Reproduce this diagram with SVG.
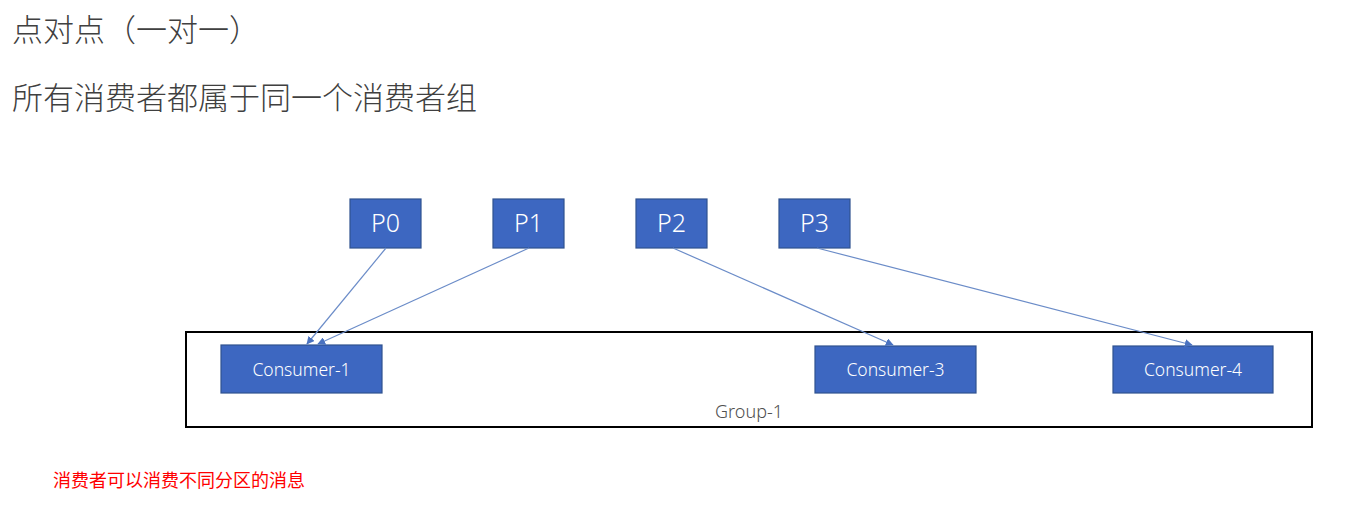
<svg xmlns="http://www.w3.org/2000/svg" width="1347" height="514" viewBox="0 0 1347 514">
<style>
.bg{fill:#ffffff}
.box{fill:#3d67c1;stroke:#2f528f;stroke-width:1.2}
.pt{font-family:"Noto Sans","Liberation Sans",sans-serif;font-size:25px;font-weight:300;fill:#ffffff;text-anchor:middle}
.ct{font-family:"Noto Sans","Liberation Sans",sans-serif;font-size:17.5px;font-weight:300;fill:#ffffff;text-anchor:middle}
.title{font-family:"Noto Sans CJK SC",sans-serif;font-size:31px;fill:#404040;font-weight:300}
.note{font-family:"Noto Sans CJK SC",sans-serif;font-size:18px;fill:#ff0000}
.grp{fill:none;stroke:#000000;stroke-width:2}
.gl{font-family:"Noto Sans","Liberation Sans",sans-serif;font-size:18px;font-weight:300;fill:#505050;text-anchor:middle}
.conn{stroke:#6b8cc8;stroke-width:1.2;fill:none;marker-end:url(#ah)}
</style>
<defs>
<marker id="ah" viewBox="0 0 10 10" refX="9" refY="5" markerWidth="8" markerHeight="8" markerUnits="userSpaceOnUse" orient="auto">
<path d="M0,0 L10,5 L0,10 z" fill="#4a72c0"/>
</marker>
</defs>
<rect class="bg" x="0" y="0" width="1347" height="514"/>
<text class="title" x="12" y="41">点对点（一对一）</text>
<text class="title" x="12" y="109">所有消费者都属于同一个消费者组</text>
<g id="group-1">
<rect class="grp" x="186" y="332" width="1126" height="95"/>
<text class="gl" x="749" y="418">Group-1</text>
</g>
<g id="p0"><rect class="box" x="350" y="199" width="71" height="49"/><text class="pt" x="385.5" y="232">P0</text></g>
<g id="p1"><rect class="box" x="493" y="199" width="71" height="49"/><text class="pt" x="528.5" y="232">P1</text></g>
<g id="p2"><rect class="box" x="636" y="199" width="71" height="49"/><text class="pt" x="671.5" y="232">P2</text></g>
<g id="p3"><rect class="box" x="779" y="199" width="71" height="49"/><text class="pt" x="814.5" y="232">P3</text></g>
<g id="consumer-1"><rect class="box" x="221" y="345" width="161" height="48"/><text class="ct" x="301.5" y="376">Consumer-1</text></g>
<g id="consumer-3"><rect class="box" x="815" y="346" width="161" height="47"/><text class="ct" x="895.5" y="376">Consumer-3</text></g>
<g id="consumer-4"><rect class="box" x="1113" y="346" width="160" height="47"/><text class="ct" x="1193" y="376">Consumer-4</text></g>
<g id="connectors">
<line class="conn" x1="386" y1="248" x2="307" y2="344"/>
<line class="conn" x1="529" y1="248" x2="318" y2="344"/>
<line class="conn" x1="673" y1="248" x2="893" y2="345"/>
<line class="conn" x1="817" y1="248" x2="1192" y2="345"/>
</g>
<text class="note" x="53" y="487">消费者可以消费不同分区的消息</text>
</svg>
